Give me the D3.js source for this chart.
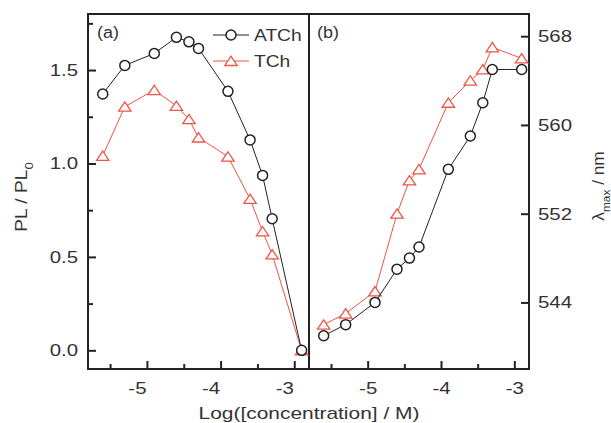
<!DOCTYPE html>
<html>
<head>
<meta charset="utf-8">
<script src="https://cdn.jsdelivr.net/npm/d3@7"></script>
<style>
  body { margin: 0; background: #fff; }
  text { font-family: "Liberation Sans", Arial, sans-serif; fill: #333; }
</style>
</head>
<body>
<div id="chart"></div>
<script>
// log concentration (same for every series)
const logConc = [-5.6, -5.3, -4.9, -4.6, -4.43, -4.3, -3.9, -3.6, -3.43, -3.3, -2.9];
// panel (a): relative PL intensity
const plATCh = [1.372, 1.525, 1.589, 1.675, 1.651, 1.616, 1.386, 1.126, 0.936, 0.704, 0.0];
const plTCh  = [1.041, 1.304, 1.393, 1.308, 1.237, 1.139, 1.037, 0.81, 0.637, 0.513, 0.0];
// panel (b): emission maximum, nm
const lamATCh = [541, 542, 544, 547, 548, 549, 556, 559, 562, 565, 565];
const lamTCh  = [542, 543, 545, 552, 555, 556, 562, 564, 565, 567, 566];
const xTicks = [-5, -4, -3];
const xMinor = [-5.5, -4.5, -3.5];
const plTicks = [0.0, 0.5, 1.0, 1.5];
const plMinor = [0.25, 0.75, 1.25, 1.75];
const lamTicks = [544, 552, 560, 568];

const W = 611, H = 423;
const L = 88, M = 309, R = 529, T = 14, B = 369;
const red = "#ee5544";
const K = 1.2; // the original lettering is wider than Arial

const svg = d3.select("#chart").append("svg")
  .attr("width", W).attr("height", H);

const xA = d3.scaleLinear().domain([-5.8, -2.8]).range([L, M]);
const xB = d3.scaleLinear().domain([-5.8, -2.8]).range([M, R]);
const yA = d3.scaleLinear().domain([-0.1, 1.8]).range([B, T]);
const yB = d3.scaleLinear().domain([538, 570]).range([B, T]);

// widen text horizontally
function stretch(sel, k) {
  sel.each(function () {
    const w = this.getComputedTextLength();
    d3.select(this).attr("textLength", w * k).attr("lengthAdjust", "spacingAndGlyphs");
  });
}

function styleAxis(g) {
  g.select(".domain").remove();
  g.selectAll(".tick line").attr("stroke", "#222").attr("stroke-width", 2);
  g.selectAll(".tick text").style("font-size", "17px").attr("fill", "#333")
    .style("font-family", "Liberation Sans, Arial, sans-serif")
    .call(stretch, K);
}

const hyphen = d => String(d);

// bottom axes, ticks inward
[xA, xB].forEach((x, i) => {
  const g = svg.append("g").attr("transform", `translate(0,${B})`)
    .call(d3.axisBottom(x).tickValues(xTicks).tickFormat(hyphen).tickSize(-8).tickPadding(13))
    .call(styleAxis);
  if (i === 0) g.selectAll(".tick text").attr("dx", -10);
  svg.append("g").attr("transform", `translate(0,${B})`)
    .call(d3.axisBottom(x).tickValues(xMinor).tickFormat("").tickSize(-5))
    .call(styleAxis);
});

// left axis
svg.append("g").attr("transform", `translate(${L},0)`)
  .call(d3.axisLeft(yA).tickValues(plTicks).tickFormat(d3.format(".1f")).tickSize(-8).tickPadding(10))
  .call(styleAxis);
svg.append("g").attr("transform", `translate(${L},0)`)
  .call(d3.axisLeft(yA).tickValues(plMinor).tickFormat("").tickSize(-5))
  .call(styleAxis);

// right axis
svg.append("g").attr("transform", `translate(${R},0)`)
  .call(d3.axisRight(yB).tickValues(lamTicks).tickFormat(d3.format("d")).tickSize(-8).tickPadding(9))
  .call(styleAxis);

// frame and divider
svg.append("rect").attr("x", L).attr("y", T).attr("width", R - L).attr("height", B - T)
  .attr("fill", "none").attr("stroke", "#222").attr("stroke-width", 2);
svg.append("line").attr("x1", M).attr("x2", M).attr("y1", T).attr("y2", B)
  .attr("stroke", "#222").attr("stroke-width", 2);

const tri = "M0,-4.8L6.2,4.5L-6.2,4.5Z";

function drawSeries(x, y, vals, color, shape) {
  const pts = logConc.map((c, i) => [x(c), y(vals[i])]);
  svg.append("path").attr("d", d3.line()(pts))
    .attr("fill", "none").attr("stroke", color).attr("stroke-width", 1);
  const g = svg.append("g");
  pts.forEach(p => {
    if (shape === "circle") {
      g.append("circle").attr("cx", p[0]).attr("cy", p[1]).attr("r", 5)
        .attr("fill", "#fff").attr("stroke", color).attr("stroke-width", 1.5);
    } else {
      g.append("path").attr("d", tri).attr("transform", `translate(${p[0]},${p[1]})`)
        .attr("fill", "#fff").attr("stroke", color).attr("stroke-width", 1.3);
    }
  });
}

drawSeries(xA, yA, plTCh, red, "tri");
drawSeries(xA, yA, plATCh, "#222", "circle");
drawSeries(xB, yB, lamTCh, red, "tri");
drawSeries(xB, yB, lamATCh, "#222", "circle");

// panel labels
svg.append("text").attr("x", 97).attr("y", 38).style("font-size", "16px").text("(a)").call(stretch, 1.12);
svg.append("text").attr("x", 317).attr("y", 38).style("font-size", "16px").text("(b)").call(stretch, 1.12);

// legend
const leg = [{name: "ATCh", color: "#222", shape: "circle", y: 35},
             {name: "TCh", color: red, shape: "tri", y: 61}];
leg.forEach(d => {
  svg.append("line").attr("x1", 213).attr("x2", 249).attr("y1", d.y).attr("y2", d.y)
    .attr("stroke", d.color).attr("stroke-width", 1);
  if (d.shape === "circle") {
    svg.append("circle").attr("cx", 231).attr("cy", d.y).attr("r", 5)
      .attr("fill", "#fff").attr("stroke", d.color).attr("stroke-width", 1.5);
  } else {
    svg.append("path").attr("d", tri).attr("transform", `translate(231,${d.y})`)
      .attr("fill", "#fff").attr("stroke", d.color).attr("stroke-width", 1.3);
  }
  svg.append("text").attr("x", 254).attr("y", d.y + 6).style("font-size", "16px")
    .text(d.name).call(stretch, 1.2);
});

// axis titles
const yl = svg.append("text").attr("transform", `translate(27,197) rotate(-90) scale(${K},1)`)
  .attr("text-anchor", "middle").style("font-size", "16px");
yl.append("tspan").text("PL / PL");
yl.append("tspan").attr("baseline-shift", "sub").style("font-size", "11px").text("0");

const yr = svg.append("text").attr("transform", "translate(604,186) rotate(-90) scale(1.08,1)")
  .attr("text-anchor", "middle").style("font-size", "16px");
yr.append("tspan").text("λ");
yr.append("tspan").attr("baseline-shift", "sub").style("font-size", "11px").text("max");
yr.append("tspan").text(" / nm");

svg.append("text").attr("x", 309).attr("y", 419).attr("text-anchor", "middle")
  .style("font-size", "17px").text("Log([concentration] / M)").call(stretch, 1.23);
</script>
</body>
</html>
